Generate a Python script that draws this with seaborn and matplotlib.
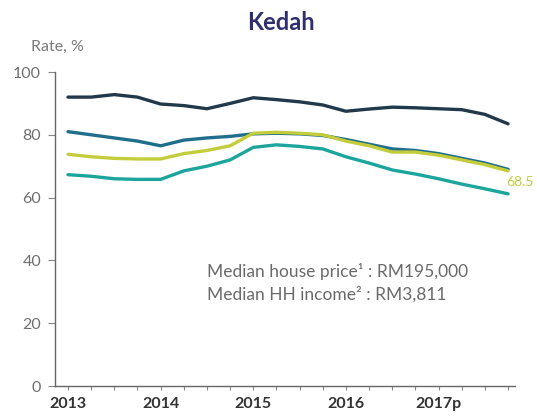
import numpy as np
import pandas as pd
import matplotlib
matplotlib.use("Agg")
import matplotlib.pyplot as plt
import seaborn as sns

quarters = list(range(20))  # 2013Q1 .. 2017Q4
year_labels = ["2013", "2014", "2015", "2016", "2017p"]
year_ticks = [0, 4, 8, 12, 16]

series_a = [92.0, 92.0, 92.8, 92.0, 89.8, 89.3, 88.3, 90.0, 91.8, 91.2,
            90.5, 89.5, 87.5, 88.2, 88.8, 88.6, 88.3, 88.0, 86.5, 83.5]
series_b = [81.0, 80.0, 79.0, 78.0, 76.5, 78.3, 79.0, 79.5, 80.3, 80.5,
            80.3, 79.8, 78.5, 77.0, 75.5, 75.0, 74.0, 72.5, 71.0, 69.0]
series_c = [73.8, 73.0, 72.5, 72.3, 72.3, 74.0, 75.0, 76.5, 80.5, 80.8,
            80.5, 80.0, 78.0, 76.5, 74.5, 74.5, 73.5, 72.0, 70.5, 68.5]
series_d = [67.3, 66.8, 66.0, 65.8, 65.8, 68.5, 70.0, 72.0, 76.0, 76.8,
            76.3, 75.5, 73.0, 71.0, 68.8, 67.5, 66.0, 64.3, 62.8, 61.2]

names = ["A", "B", "C", "D"]
colors = ["#22394a", "#1f6e8c", "#c3cd3c", "#1ca59c"]

df = pd.DataFrame({
    "q": quarters * 4,
    "rate": series_a + series_b + series_c + series_d,
    "series": sum([[n] * 20 for n in names], []),
})

sns.set_style("white")
plt.rcParams["font.family"] = ["Lato", "DejaVu Sans"]

fig = plt.figure(figsize=(5.37, 4.17), dpi=100)
ax = fig.add_axes([55 / 537, 1 - 386 / 417, 460 / 537, 314 / 417])

sns.lineplot(data=df, x="q", y="rate", hue="series", palette=dict(zip(names, colors)),
             linewidth=2.4, legend=False, ax=ax)

ax.set_xlim(-0.56, 19.3)
ax.set_ylim(0, 100)
ax.set_xlabel("")
ax.set_ylabel("")
for s in ["top", "right"]:
    ax.spines[s].set_visible(False)
for s in ["left", "bottom"]:
    ax.spines[s].set_color("#666666")
    ax.spines[s].set_linewidth(1.0)

ax.set_yticks([0, 20, 40, 60, 80, 100])
ax.set_yticklabels(["0", "20", "40", "60", "80", "100"], color="#6f6f6f", fontsize=11.5)
ax.tick_params(axis="y", length=5, width=0.8, color="#888888", pad=5, left=True)

ax.set_xticks(year_ticks)
ax.set_xticklabels(year_labels, fontsize=11.5, fontweight="bold", color="#333333")
ax.set_xticks(quarters, minor=True)
ax.tick_params(axis="x", which="major", length=3, width=0.8, color="#888888", pad=5, bottom=True)
ax.tick_params(axis="x", which="minor", length=3, width=0.8, color="#888888", bottom=True)

fig.text(281 / 537, 1 - 22 / 417, "Kedah", ha="center", va="center",
         fontsize=17, fontweight="bold", color="#2e2f6b")
fig.text(31 / 537, 1 - 47 / 417, "Rate, %", ha="left", va="center",
         fontsize=11.5, color="#7a7a7a")

ax.text(19.5, series_c[-1] - 3.5, "68.5", ha="center", va="center",
        fontsize=10, color="#c3cd3c", clip_on=False)

ax.text(6.0, 36.5, "Median house price\u00b9 : RM195,000", ha="left", va="center",
        fontsize=12.5, color="#6a6a6a")
ax.text(6.0, 29.3, "Median HH income\u00b2 : RM3,811", ha="left", va="center",
        fontsize=12.5, color="#6a6a6a")

fig.savefig("out.png", dpi=100)
